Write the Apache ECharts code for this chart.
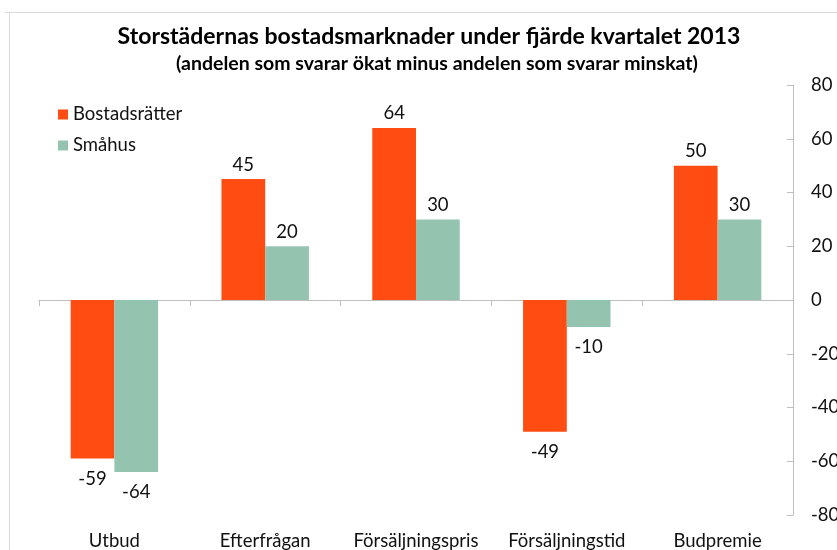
<!DOCTYPE html>
<html><head><meta charset="utf-8">
<script src="https://cdn.jsdelivr.net/npm/echarts@6/dist/echarts.min.js"></script>
<style>html,body{margin:0;padding:0;background:#fff}#c{width:837px;height:550px}</style>
</head><body><div id="c"></div>
<script>
const categories = ['Utbud', 'Efterfrågan', 'Försäljningspris', 'Försäljningstid', 'Budpremie'];
const bostadsratter = [-59, 45, 64, -49, 50];
const smahus = [-64, 20, 30, -10, 30];
const yTicks = {min: -80, max: 80, interval: 20};

const chart = echarts.init(document.getElementById('c'));
const font = 'Lato, "Open Sans", sans-serif';
const lbl = {
  show: true, fontFamily: font, fontSize: 18.5, color: '#111', distance: 5,
  position: 'top'
};
function mk(name, data, color) {
  return {
    name, type: 'bar',
    data: data.map(v => ({value: v, label: v < 0 ? {position: 'bottom', distance: 11} : {position: 'top', distance: 5}})),
    itemStyle: {color}, barGap: '0%', barCategoryGap: '42%', label: lbl
  };
}
chart.setOption({
  animation: false,
  title: [{
    text: 'Storstädernas bostadsmarknader under fjärde kvartalet 2013',
    left: 424, textAlign: 'center', top: 20,
    textStyle: {fontFamily: font, fontSize: 23, fontWeight: 'bold', color: '#000'}
  }, {
    text: '(andelen som svarar ökat minus andelen som svarar minskat)',
    left: 432, textAlign: 'center', top: 49,
    textStyle: {fontFamily: font, fontSize: 19.5, fontWeight: 'bold', color: '#000'}
  }],
  legend: {
    orient: 'vertical', left: 53, top: 100, itemWidth: 10, itemHeight: 10, itemGap: 12,
    icon: 'rect',
    textStyle: {fontFamily: font, fontSize: 18.5, color: '#111'},
    data: ['Bostadsrätter', 'Småhus']
  },
  grid: {left: 39, right: 44, top: 85, bottom: 35, containLabel: false, outerBoundsMode: 'none'},
  xAxis: [{
    type: 'category', data: categories, position: 'bottom',
    axisLine: {onZero: true, lineStyle: {color: '#bfbfbf', width: 1}},
    axisTick: {show: true, length: 6, lineStyle: {color: '#bfbfbf'}},
    axisLabel: {show: false}
  }, {
    type: 'category', data: categories, position: 'bottom',
    axisLine: {show: false, onZero: false}, axisTick: {show: false},
    axisLabel: {show: true, interval: 0, hideOverlap: false, margin: 17, fontFamily: font, fontSize: 18.5, color: '#111'}
  }],
  yAxis: {
    type: 'value', position: 'right', min: yTicks.min, max: yTicks.max, interval: yTicks.interval,
    axisLine: {show: true, lineStyle: {color: '#bfbfbf'}},
    axisTick: {show: true, inside: true, length: 6, lineStyle: {color: '#bfbfbf'}},
    splitLine: {show: false},
    axisLabel: {margin: 18, fontFamily: font, fontSize: 18.5, color: '#111'}
  },
  graphic: [
    {type: 'line', shape: {x1: 5, y1: 12.5, x2: 837, y2: 12.5}, style: {stroke: '#d9d9d9', lineWidth: 1}},
    {type: 'line', shape: {x1: 9.5, y1: 12, x2: 9.5, y2: 550}, style: {stroke: '#d9d9d9', lineWidth: 1}}
  ],
  series: [mk('Bostadsrätter', bostadsratter, '#FF4C12'), mk('Småhus', smahus, '#94C4B0')]
});
</script></body></html>
